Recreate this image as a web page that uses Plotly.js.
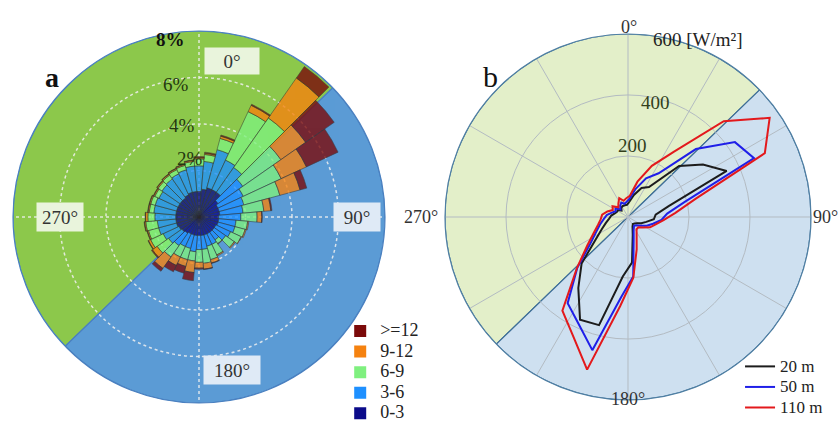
<!DOCTYPE html>
<html><head><meta charset="utf-8">
<script src="https://cdn.plot.ly/plotly-3.0.1.min.js"></script>
<style>html,body{margin:0;padding:0;background:#fff}#chart{width:840px;height:421px}</style>
</head><body><div id="chart"></div>
<script>
// ---------- Panel a: wind rose (frequency %, by direction and speed class) ----------
const directions = [0,10,20,30,40,50,60,70,80,90,100,110,120,130,140,150,160,170,180,190,200,210,220,230,240,250,260,270,280,290,300,310,320,330,340,350];
const speedClasses = ['0-3','3-6','6-9','9-12','>=12'];
const freq0to3  = [1.1,1.2,1.3,1.3,1.3,1.0,0.9,0.9,0.9,0.85,0.85,0.85,0.8,0.8,0.8,0.8,0.8,0.8,0.8,0.8,0.8,0.8,0.85,0.9,0.95,1.0,1.0,1.0,1.0,1.0,1.0,1.0,1.0,1.05,1.1,1.1];
const freq3to6  = [1.1,1.2,1.7,1.4,1.3,1.3,1.2,1.1,1.0,0.95,0.75,0.75,0.7,0.6,0.4,0.5,0.5,0.6,0.6,0.7,0.6,0.6,0.65,0.7,0.75,0.8,0.8,0.9,0.95,0.95,0.9,0.95,1.0,1.0,1.0,1.1];
const freq6to9  = [0.3,0.3,0.5,2.3,2.6,2.0,1.8,1.6,0.9,0.7,0.5,0.45,0.5,0.45,0.2,0.5,0.6,0.6,0.55,0.4,0.5,0.5,0.6,0.6,0.6,0.45,0.5,0.3,0.2,0.2,0.2,0.2,0.2,0.2,0.2,0.2];
const freq9to12 = [0.05,0.05,0.1,0.3,2.1,1.3,1.2,0.9,0.3,0.2,0.05,0.05,0.02,0.05,0.02,0.05,0.15,0.25,0.25,0.5,0.3,0.4,0.6,0.25,0.1,0.05,0.05,0.1,0.05,0.05,0.05,0.05,0.05,0.05,0.05,0.05];
const freq12up  = [0.05,0.05,0.05,0.05,0.6,1.5,1.5,0.3,0.05,0.02,0,0,0,0,0,0,0.02,0.02,0.05,0.35,0.3,0.3,0.15,0.05,0.02,0.02,0.02,0.02,0.02,0.02,0.02,0.02,0.02,0.02,0.02,0.02];
const classColors = ['#0b0b8a','#1e90ff','#7ff07f','#f58210','#7b0a0a'];
const freqTicks = [2,4,6,8];
const freqTickText = ['2%','4%','6%','8%'];

// ---------- Panel b: wind power density (W/m²) by direction and height ----------
const powerDirections = [5,15,25,35,45,55,65,75,85,95,105,115,125,135,145,155,165,175,185,195,205,215,225,235,245,255,265,275,285,295,305,315,325,335,345,355];
const heights = ['20 m','50 m','110 m'];
const power20  = [50,75,105,120,237,300,357,138,91,85,62,48,36,30,28,35,60,150,196,367,372,284,215,130,95,75,62,55,45,40,40,30,38,40,40,40];
const power50  = [60,95,140,175,315,428,456,194,129,110,85,68,50,38,35,44,72,196,265,452,385,345,235,150,115,95,80,70,55,45,50,35,45,52,45,50];
const power110 = [70,120,185,261,444,567,495,229,156,117,94,80,60,48,49,67,110,200,293,518,428,375,237,163,124,102,90,85,70,55,62,45,55,68,55,62];
const lineColors = ['#1c1c1c','#1f1fe8','#e3191c'];
const powerTicks = [200,400,600];
const powerTickText = ['200','400','600 [W/m²]'];

const compassTicks = [0,90,180,270];
const compassText = ['0°','90°','180°','270°'];
const spokeTicks = [0,30,60,90,120,150,180,210,240,270,300,330];
const sectorSplit = 46;   // NE–SW dividing line of the shaded halves

// label placement (pixels from top-left) — styling only
const freqLabelPos  = [[175,159],[167,113],[161,72],[154,27]];
const powerLabelPos = [[649,145],[672,90],[745,27]];
const compassBoxPos = [[204,47,52,24,'#e9f4dc'],[357,217,44,26,'#dfeaf6'],[203,385,54,26,'#dfeaf6'],[36,217,44,26,'#e9f4dc']];
const compassPosB   = [[629,15,'center'],[840,217,'right'],[628,411,'center'],[440,217,'right']];

const serif = 'Liberation Serif';
const W = 840, H = 421;
const traces = [];
const esc = s => s.replace(/&/g,'&amp;').replace(/</g,'&lt;').replace(/>/g,'&gt;');

function halves(subplot, rmax, colors, lineCol) {
  traces.push({type:'barpolar', subplot, theta:[sectorSplit+270, sectorSplit+90], r:[rmax, rmax], width:[180,180],
    marker:{color:colors, line:{color:lineCol, width:1.2}}, showlegend:false, hoverinfo:'skip'});
}
halves('polar', 8, ['#8cc84b','#5b9bd5'], '#4a80c0');

const classData = [freq0to3, freq3to6, freq6to9, freq9to12, freq12up];
let cum = directions.map(() => 0);
classData.forEach((vals, k) => {
  traces.push({type:'barpolar', subplot:'polar2', name:speedClasses[k], showlegend:false,
    theta:directions, r:vals, base:cum.slice(), width:10,
    marker:{color:classColors[k], opacity:0.8, line:{color:'rgba(45,45,45,0.85)', width:0.7}}});
  cum = cum.map((c, i) => c + vals[i]);
});
speedClasses.forEach((name, k) => {
  traces.push({type:'barpolar', subplot:'polar2', legend:'legend',
    name:'<span style="font-size:18px">' + esc(name) + '</span>', theta:[null], r:[null],
    marker:{color:classColors[k], line:{width:0}}});
});

halves('polar3', 600, ['#e3efc9','#cee0f0'], '#3f6f97');
[power20, power50, power110].forEach((vals, k) => {
  traces.push({type:'scatterpolar', mode:'lines', subplot:'polar4', legend:'legend2',
    name:'<span style="font-size:17px">' + esc(heights[k]) + '</span>',
    theta:powerDirections.concat([powerDirections[0]]), r:vals.concat([vals[0]]),
    line:{color:lineColors[k], width:2}});
});

const domA = {x:[13/W, 385/W], y:[18/H, 390/H]};
const domB = {x:[445/W, 811/W], y:[21/H, 387/H]};
const hiddenAx = {visible:false};
const ann = (text, px, py, font, extra) => Object.assign({text, x:px/W, y:1-py/H, xref:'paper', yref:'paper', showarrow:false, font}, extra || {});

const annotations = [
  ann('<b>a</b>', 43, 60, {family:serif, size:28, color:'#111'}),
  ann('b', 490, 58, {family:serif, size:30, color:'#111'})
];
compassText.forEach((t, i) => {
  const p = compassBoxPos[i];
  annotations.push(ann(t, p[0], p[1], {family:serif, size:19, color:'#333'}, {width:p[2], height:p[3], bgcolor:p[4]}));
  const q = compassPosB[i];
  annotations.push(ann(t, q[0], q[1], {family:serif, size:18, color:'#333'}, {xanchor:q[2]}));
});
freqTickText.forEach((t, i) => {
  const last = i === freqTickText.length - 1;
  annotations.push(ann(last ? '<b>' + t + '</b>' : t, freqLabelPos[i][0], freqLabelPos[i][1],
    {family:serif, size:19, color: last ? '#111' : '#24380f'}));
});
powerTickText.forEach((t, i) => {
  const last = i === powerTickText.length - 1;
  annotations.push(ann(t, powerLabelPos[i][0], powerLabelPos[i][1], {family:serif, size:19, color: last ? '#222' : '#323f1c'}));
});

const layout = {
  width:W, height:H, margin:{l:0,r:0,t:0,b:0, autoexpand:false}, paper_bgcolor:'#fff', showlegend:true,
  font:{family:serif, color:'#222'},
  polar:{domain:domA, bgcolor:'rgba(0,0,0,0)', barmode:'overlay',
    radialaxis:Object.assign({range:[0,8]}, hiddenAx),
    angularaxis:Object.assign({rotation:90, direction:'clockwise'}, hiddenAx)},
  polar2:{domain:domA, bgcolor:'rgba(0,0,0,0)', barmode:'overlay',
    radialaxis:{range:[0,8], tickvals:freqTicks, ticktext:freqTickText, showticklabels:false, showline:false, ticks:'',
      gridcolor:'rgba(240,240,240,0.85)', griddash:'dot', gridwidth:1.5},
    angularaxis:{rotation:90, direction:'clockwise', tickvals:compassTicks, showticklabels:false, ticks:'',
      gridcolor:'rgba(240,240,240,0.85)', griddash:'dot', gridwidth:1.5, showline:true, linecolor:'#4a80c0', linewidth:1.2}},
  polar3:{domain:domB, bgcolor:'rgba(0,0,0,0)',
    radialaxis:Object.assign({range:[0,600]}, hiddenAx),
    angularaxis:Object.assign({rotation:90, direction:'clockwise'}, hiddenAx)},
  polar4:{domain:domB, bgcolor:'rgba(0,0,0,0)',
    radialaxis:{range:[0,600], tickvals:powerTicks, ticktext:powerTickText, showticklabels:false, showline:false, ticks:'',
      gridcolor:'#b3bbc2', gridwidth:1},
    angularaxis:{rotation:90, direction:'clockwise', tickvals:spokeTicks, showticklabels:false,
      ticks:'', gridcolor:'#b3bbc2', gridwidth:1, showline:true, linecolor:'#4f7fa3', linewidth:1.2}},
  legend:{x:0.405, y:0.25, xanchor:'left', yanchor:'top', bgcolor:'rgba(0,0,0,0)', traceorder:'reversed',
    font:{family:serif, size:13.5, color:'#222'}, tracegroupgap:0},
  legend2:{x:0.881, y:0.166, xanchor:'left', yanchor:'top', bgcolor:'rgba(0,0,0,0)',
    font:{family:serif, size:13.5, color:'#222'}, tracegroupgap:0},
  annotations
};
Plotly.newPlot('chart', traces, layout, {displayModeBar:false, staticPlot:true});
</script></body></html>
